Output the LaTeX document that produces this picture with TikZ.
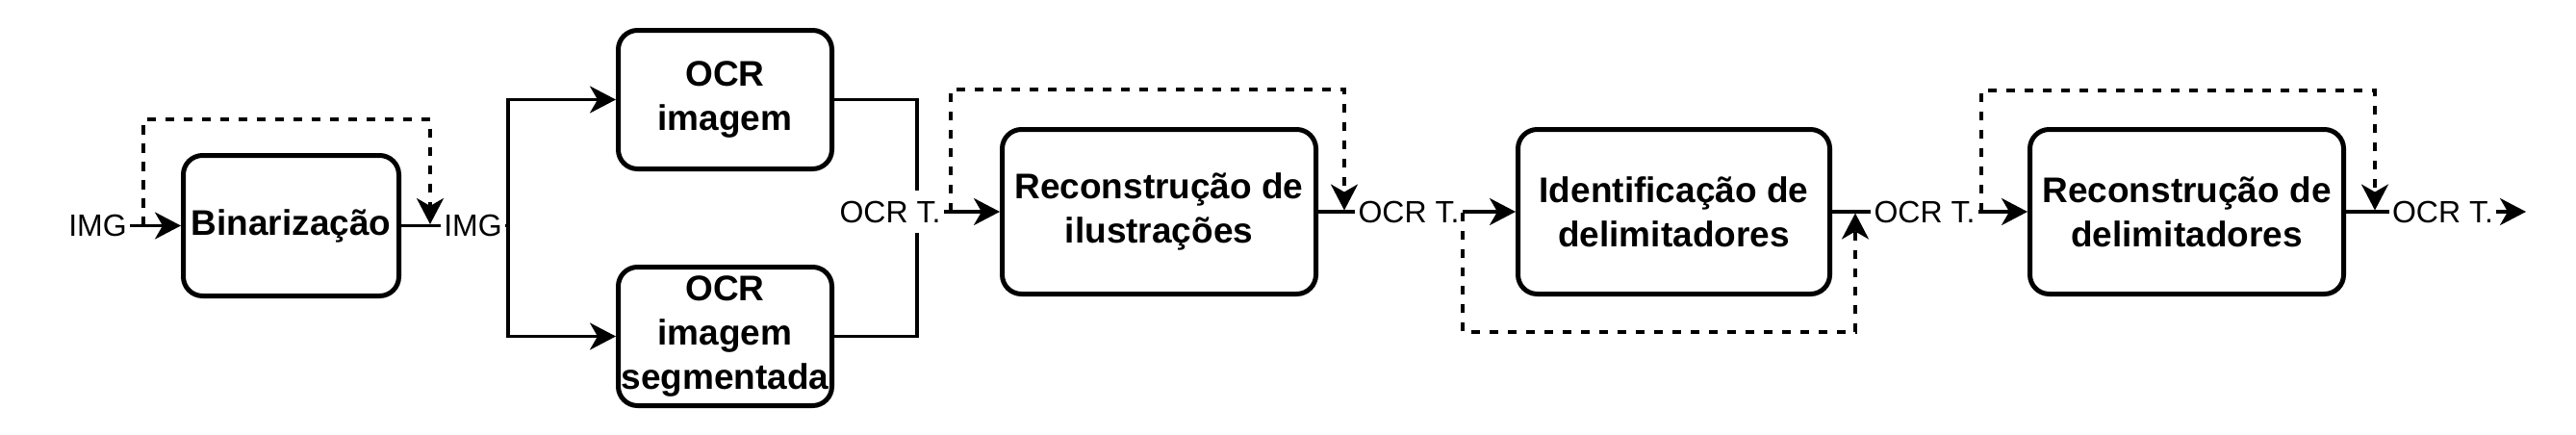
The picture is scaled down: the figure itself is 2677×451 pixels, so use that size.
\documentclass[tikz,border=0pt]{standalone}
\usepackage{fontspec}
\setmainfont{Liberation Sans}
\usetikzlibrary{arrows.meta}

\begin{document}
\begin{tikzpicture}[x=0.5pt, y=-0.5pt, >={Stealth[length=13.5pt, width=14pt, inset=4pt]},
  box/.style={draw, line width=2.5pt, rounded corners=10pt, fill=white, align=center, inner sep=0pt,
    font=\bfseries\fontsize{18.5}{22.9}\selectfont},
  lbl/.style={inner xsep=1.5pt, inner ysep=5pt, font=\fontsize{16}{19}\selectfont},
  link/.style={line width=1.7pt},
  bypass/.style={line width=1.7pt, dash pattern=on 4.7pt off 4.8pt}]
  \useasboundingbox (0,0) rectangle (2677,451);

  \node[box, minimum width=112pt, minimum height=73pt] (bin) at (302.5,234.5) {Binarização};
  \node[box, minimum width=111pt, minimum height=72pt] (ocr) at (753.5,103.5) {OCR\\imagem};
  \node[box, minimum width=111pt, minimum height=72pt] (ocrs) at (753.5,349.5) {OCR\\imagem\\segmentada};
  \node[box, minimum width=163pt, minimum height=85.5pt] (rilu) at (1204.5,220) {Reconstrução de\\ilustrações};
  \node[box, minimum width=162pt, minimum height=85.5pt] (idel) at (1739.5,220) {Identificação de\\delimitadores};
  \node[box, minimum width=163pt, minimum height=85.5pt] (rdel) at (2272.5,220) {Reconstrução de\\delimitadores};

  \node[lbl] (i0) at (101.5,234.5) {IMG};
  \node[lbl] (i1) at (491.5,234.5) {IMG};
  \node[lbl] (t1) at (925,220) {OCR T.};
  \node[lbl] (t2) at (1464,220) {OCR T.};
  \node[lbl] (t3) at (2000,220) {OCR T.};
  \node[lbl] (t4) at (2538.5,220) {OCR T.};

  \coordinate (j1) at (953,220);
  \coordinate (e4) at (2625,220);

  % main flow
  \draw[link, ->] (i0) -- (bin);
  \draw[link] (bin) -- (i1);
  \draw[link, ->] (i1.east) -- ++(3,0) |- (ocr.west);
  \draw[link, ->] (i1.east) -- ++(3,0) |- (ocrs.west);
  \draw[link] (ocr.east) -| (j1 |- t1.north);
  \draw[link] (ocrs.east) -| (j1 |- t1.south);
  \draw[link, ->] (t1) -- (rilu);
  \draw[link] (rilu) -- (t2);
  \draw[link, ->] (t2) -- (idel);
  \draw[link] (idel) -- (t3);
  \draw[link, ->] (t3) -- (rdel);
  \draw[link] (rdel) -- (t4);
  \draw[link, ->] (t4) -- (e4);

  % bypasses
  \coordinate (s1) at (149,234.5);
  \coordinate (f1) at (447,233);
  \coordinate (s2) at (988,220);
  \coordinate (f2) at (1397,218.5);
  \coordinate (s3) at (1520,221);
  \coordinate (f3) at (1928,221.5);
  \coordinate (s4) at (2059,220);
  \coordinate (f4) at (2468,218.5);
  \draw[bypass, ->] (s1) -- ++(0,-110.5) -| (f1);
  \draw[bypass, ->] (s2) -- ++(0,-127) -| (f2);
  \draw[bypass, ->] (s3) -- ++(0,124) -| (f3);
  \draw[bypass, ->] (s4) -- ++(0,-126) -| (f4);
\end{tikzpicture}
\end{document}
